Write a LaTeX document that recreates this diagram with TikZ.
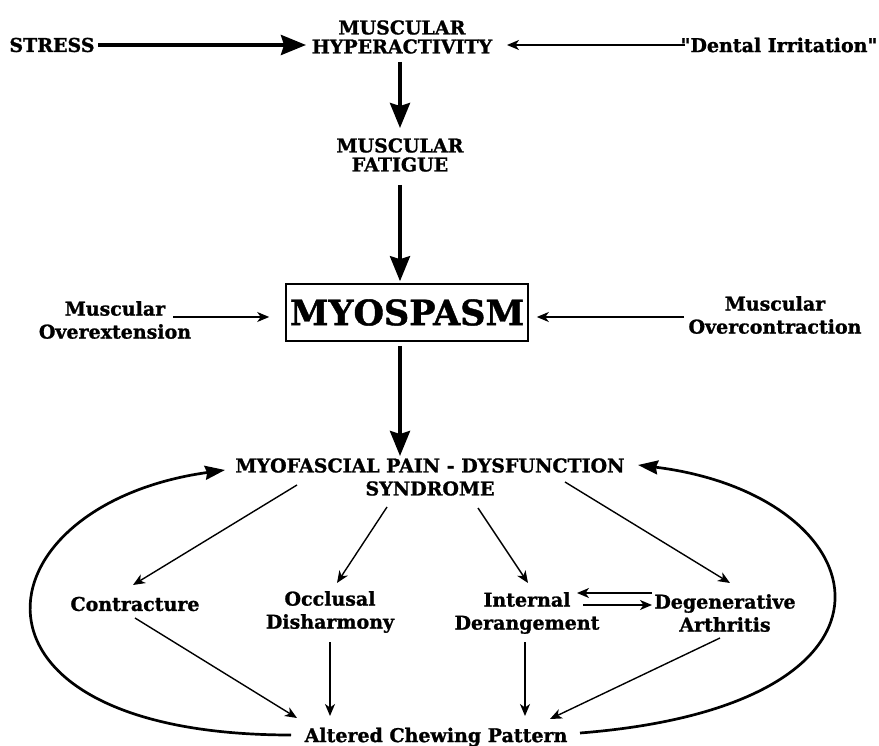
\documentclass[tikz,border=0pt]{standalone}
\usepackage{fontspec}
\newfontfamily\djs{DejaVu Serif}[BoldFeatures={FakeBold=1.2}]
\usetikzlibrary{arrows.meta,calc}
\begin{document}
\begin{tikzpicture}[x=1pt,y=-1pt,
  lbl/.style={font=\djs\bfseries\fontsize{19}{23}\selectfont, align=center, inner sep=0pt},
  toplbl/.style={font=\djs\bfseries\fontsize{19}{19}\selectfont, align=center, inner sep=0pt},
  thickarr/.style={line width=3.6pt, -{Stealth[length=25pt,width=20pt,inset=3pt]}},
  thinarr/.style={line width=1.4pt, -{Stealth[length=12pt,width=10pt,inset=3.5pt]}},
  looparr/.style={line width=2.7pt, -{Stealth[length=20pt,width=14pt,inset=2pt]}},
]
\useasboundingbox[fill=white] (0,0) rectangle (879,746);
% nodes
\node[toplbl] (stress) at (52,45) {STRESS};
\node[toplbl] (hyper) at (402,37) {MUSCULAR\\HYPERACTIVITY};
\node[toplbl] (dental) at (779,45) {"Dental Irritation"};
\node[toplbl] (fatigue) at (400,155) {MUSCULAR\\FATIGUE};
\node[draw, line width=1.6pt, minimum width=242pt, minimum height=57pt, inner sep=0pt,
      font=\djs\bfseries\fontsize{35}{40}\selectfont] (myo) at (407,312.5) {MYOSPASM};
\node[lbl] (overext) at (115,320) {Muscular\\Overextension};
\node[lbl] (overcon) at (775,315) {Muscular\\Overcontraction};
\node[lbl] (mpd) at (430,477) {MYOFASCIAL PAIN - DYSFUNCTION\\SYNDROME};
\node[lbl] (contr) at (135,604) {Contracture};
\node[lbl] (occl) at (330,612) {Occlusal\\Disharmony};
\node[lbl] (intern) at (527,613) {Internal\\Derangement};
\node[lbl] (degen) at (725,613) {Degenerative\\Arthritis};
\node[lbl] (alt) at (436,737) {Altered Chewing Pattern};
% thick arrows
\draw[thickarr] ($(stress)+(46,0)$) -- ($(hyper)+(-96,8)$);
\draw[thickarr] ($(hyper)+(-2,25)$) -- ($(fatigue)+(0,-27)$);
\draw[thickarr] ($(fatigue)+(0,30)$) -- ($(myo.north)+(-7,-2)$);
\draw[thickarr] ($(myo.south)+(-7,4)$) -- ($(mpd)+(-30,-21)$);
% thin arrows
\draw[thinarr] ($(dental)+(-94,0)$) -- ($(hyper)+(105,8)$);
\draw[thinarr] ($(overext)+(58,-3)$) -- ($(myo.west)+(-16,4.5)$);
\draw[thinarr] ($(overcon)+(-91,2)$) -- ($(myo.east)+(8,4.5)$);
\draw[thinarr] ($(mpd)+(-133,8)$) -- ($(contr)+(-2,-19)$);
\draw[thinarr] ($(mpd)+(-43,30)$) -- ($(occl)+(7,-29)$);
\draw[thinarr] ($(mpd)+(48,31)$) -- ($(intern)+(1,-30)$);
\draw[thinarr] ($(mpd)+(135,5)$) -- ($(degen)+(5,-30)$);
\draw[thinarr] ($(degen)+(-73,-20)$) -- ($(intern)+(50,-20)$);
\draw[thinarr] ($(intern)+(56,-8)$) -- ($(degen)+(-73,-8)$);
\draw[thinarr] ($(contr)+(0,14)$) -- ($(alt)+(-139,-19)$);
\draw[thinarr] ($(occl)+(0,30)$) -- ($(alt)+(-106,-21)$);
\draw[thinarr] ($(intern)+(-2,29)$) -- ($(alt)+(89,-21)$);
\draw[thinarr] ($(degen)+(-5,25)$) -- ($(alt)+(114,-18)$);
% loops
\draw[looparr] ($(alt)+(-145,-2)$) .. controls (-60,735) and (-25,505) .. ($(mpd)+(-205,-7)$);
\draw[looparr] ($(alt)+(144,-4)$) .. controls (935,705) and (880,495) .. ($(mpd)+(208,-12)$);
\end{tikzpicture}
\end{document}
